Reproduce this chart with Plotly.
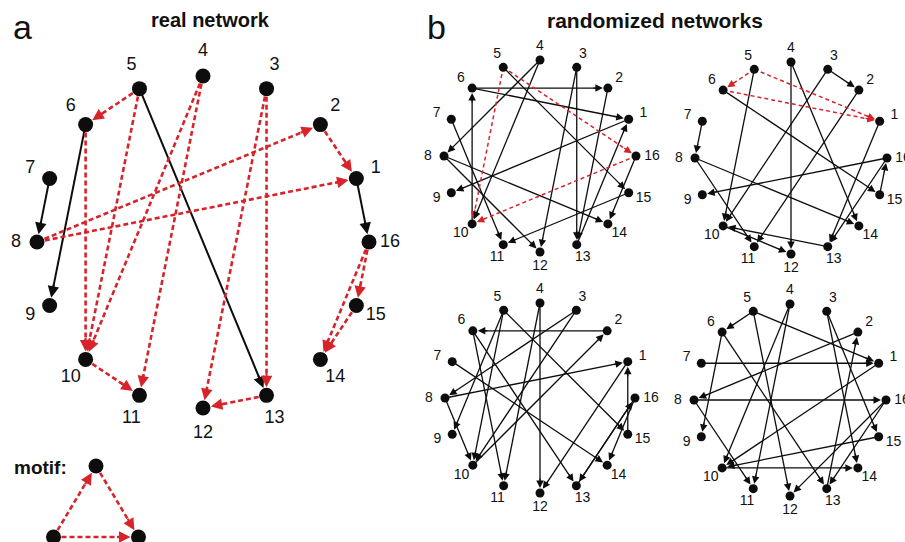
import math
import plotly.graph_objects as go

# ---------------- data ----------------
NODE_IDS = list(range(1, 17))

# (source, target, part_of_feed_forward_motif)
REAL_EDGES = [
    (7, 8, False), (6, 9, False), (5, 13, False), (1, 16, False),
    (5, 6, True), (5, 10, True), (6, 10, True),
    (4, 10, True), (4, 11, True), (10, 11, True),
    (3, 13, True), (3, 12, True), (13, 12, True),
    (8, 2, True), (8, 1, True), (2, 1, True),
    (16, 15, True), (16, 14, True), (15, 14, True),
]
RAND1_EDGES = [
    (5, 10, True), (5, 16, True), (16, 10, True),
    (6, 2, False), (6, 1, False), (10, 6, False), (5, 15, False),
    (4, 8, False), (4, 10, False), (7, 11, False), (8, 12, False),
    (8, 14, False), (1, 9, False), (3, 13, False), (3, 12, False),
    (2, 13, False), (13, 1, False), (15, 11, False), (16, 14, False),
]
RAND2_EDGES = [
    (5, 6, True), (5, 1, True), (6, 1, True),
    (3, 2, False), (7, 8, False), (5, 10, False), (4, 12, False),
    (4, 14, False), (3, 10, False), (2, 11, False), (6, 15, False),
    (8, 14, False), (8, 11, False), (16, 9, False), (15, 16, False),
    (1, 13, False), (16, 13, False), (13, 10, False), (10, 12, False),
]
RAND3_EDGES = [
    (2, 6, False), (3, 8, False), (3, 10, False), (4, 12, False),
    (4, 11, False), (5, 15, False), (5, 9, False), (5, 10, False),
    (6, 11, False), (6, 13, False), (7, 14, False), (8, 1, False),
    (8, 10, False), (10, 2, False), (15, 1, False), (16, 13, False),
    (16, 14, False), (13, 16, False), (1, 12, False),
]
RAND4_EDGES = [
    (5, 6, False), (5, 1, False), (5, 12, False), (4, 10, False),
    (4, 11, False), (3, 15, False), (3, 14, False), (6, 9, False),
    (6, 13, False), (7, 1, False), (2, 8, False), (8, 16, False),
    (8, 11, False), (1, 10, False), (15, 10, False), (10, 14, False),
    (16, 12, False), (16, 13, False), (13, 2, False),
]
MOTIF_EDGES = [(0, 1), (1, 2), (0, 2)]  # bottom-left -> top -> bottom-right

PANEL_LETTERS = ["a", "b"]
PANEL_TITLES = ["real network", "randomized networks"]
MOTIF_LABEL = "motif:"

# ---------------- style / layout ----------------
W, H = 905, 542
BLACK = "#0d0d0d"
RED = "#d6242a"
FONT = "Liberation Sans, Arial, Helvetica, sans-serif"

PANELS = [
    dict(edges=REAL_EDGES, cx=203, cy=242, R=166, node=15, lw=2.0, rlw=2.6,
         dash="5px,3px", hsize=1.15, hw=2.0, fs=18, lx=21, ly=25),
    dict(edges=RAND1_EDGES, cx=540, cy=156, R=96, node=9, lw=1.3, rlw=1.5,
         dash="4px,3px", hsize=1.25, hw=1.2, fs=14, lx=16, ly=14),
    dict(edges=RAND2_EDGES, cx=791, cy=158, R=96, node=9, lw=1.3, rlw=1.5,
         dash="4px,3px", hsize=1.25, hw=1.2, fs=14, lx=16, ly=14),
    dict(edges=RAND3_EDGES, cx=540, cy=398, R=95, node=9, lw=1.3, rlw=1.5,
         dash="4px,3px", hsize=1.25, hw=1.2, fs=14, lx=16, ly=14),
    dict(edges=RAND4_EDGES, cx=790, cy=400, R=96, node=9, lw=1.3, rlw=1.5,
         dash="4px,3px", hsize=1.25, hw=1.2, fs=14, lx=16, ly=14),
]
MOTIF_LAYOUT = dict(cx=96, cy=501.5, side=85, height=71, node=15, lw=2.6,
                    dash="5px,3px", hsize=1.15, hw=2.0)


def circle_positions(cx, cy, R):
    pos = {}
    for k in NODE_IDS:
        a = math.radians(90 + 22.5 * (k - 4))
        pos[k] = (cx + R * math.cos(a), cy - R * math.sin(a), a)
    return pos


fig = go.Figure()
annotations = []


def add_edges(pos, edges, r, lw, rlw, dash, hsize, hw):
    bx, by, rx, ry = [], [], [], []
    for s, t, motif in edges:
        x0, y0 = pos[s][0], pos[s][1]
        x1, y1 = pos[t][0], pos[t][1]
        dx, dy = x1 - x0, y1 - y0
        L = math.hypot(dx, dy)
        ux, uy = dx / L, dy / L
        head = 5 * hsize * hw
        ex, ey = x1 - ux * (r + head * 0.6), y1 - uy * (r + head * 0.6)
        color = RED if motif else BLACK
        if motif:
            rx += [x0, ex, None]
            ry += [y0, ey, None]
        else:
            bx += [x0, ex, None]
            by += [y0, ey, None]
        back = r + head + 4
        annotations.append(dict(
            x=x1, y=y1, xref="x", yref="y",
            ax=x1 - ux * back, ay=y1 - uy * back, axref="x", ayref="y",
            text="", showarrow=True, arrowhead=2, arrowsize=hsize,
            arrowwidth=hw, arrowcolor=color, standoff=r + 0.5,
        ))
    if bx:
        fig.add_trace(go.Scatter(x=bx, y=by, mode="lines",
                                 line=dict(color=BLACK, width=lw),
                                 hoverinfo="skip"))
    if rx:
        fig.add_trace(go.Scatter(x=rx, y=ry, mode="lines",
                                 line=dict(color=RED, width=rlw, dash=dash),
                                 hoverinfo="skip"))


for p in PANELS:
    pos = circle_positions(p["cx"], p["cy"], p["R"])
    add_edges(pos, p["edges"], p["node"] / 2, p["lw"], p["rlw"], p["dash"],
              p["hsize"], p["hw"])
    fig.add_trace(go.Scatter(
        x=[pos[k][0] for k in NODE_IDS], y=[pos[k][1] for k in NODE_IDS],
        mode="markers", marker=dict(color=BLACK, size=p["node"]),
        hoverinfo="skip"))
    fig.add_trace(go.Scatter(
        x=[pos[k][0] + p["lx"] * math.cos(pos[k][2]) for k in NODE_IDS],
        y=[pos[k][1] - p["ly"] * math.sin(pos[k][2]) for k in NODE_IDS],
        mode="text", text=[str(k) for k in NODE_IDS],
        textfont=dict(family=FONT, size=p["fs"], color="#111111"),
        textposition="middle center", hoverinfo="skip"))

# motif triangle
m = MOTIF_LAYOUT
mpos = {
    0: (m["cx"] - m["side"] / 2, m["cy"] + m["height"] / 2, 0),
    1: (m["cx"], m["cy"] - m["height"] / 2, 0),
    2: (m["cx"] + m["side"] / 2, m["cy"] + m["height"] / 2, 0),
}
add_edges(mpos, [(a, b, True) for a, b in MOTIF_EDGES], m["node"] / 2,
          m["lw"], m["lw"], m["dash"], m["hsize"], m["hw"])
fig.add_trace(go.Scatter(
    x=[mpos[k][0] for k in mpos], y=[mpos[k][1] for k in mpos],
    mode="markers", marker=dict(color=BLACK, size=m["node"]),
    hoverinfo="skip"))

# texts
texts = [
    dict(x=22, y=27, text=PANEL_LETTERS[0], size=34, bold=False),
    dict(x=436, y=27, text=PANEL_LETTERS[1], size=34, bold=False),
    dict(x=210, y=20, text=PANEL_TITLES[0], size=20, bold=True),
    dict(x=655, y=20, text=PANEL_TITLES[1], size=21, bold=True),
    dict(x=40, y=467, text=MOTIF_LABEL, size=19, bold=True),
]
for t in texts:
    annotations.append(dict(
        x=t["x"], y=t["y"], xref="x", yref="y", showarrow=False,
        text=("<b>%s</b>" % t["text"]) if t["bold"] else t["text"],
        font=dict(family=FONT, size=t["size"], color="#111111"),
        xanchor="center", yanchor="middle"))

fig.update_layout(
    width=W, height=H, autosize=False,
    margin=dict(l=0, r=0, t=0, b=0, pad=0),
    paper_bgcolor="white", plot_bgcolor="white",
    showlegend=False, hovermode=False,
    xaxis=dict(range=[0, W], visible=False, fixedrange=True),
    yaxis=dict(range=[H, 0], visible=False, fixedrange=True),
    annotations=annotations,
)

fig.write_html("out.html", config={"displayModeBar": False},
               post_script="document.body.style.margin='0';document.body.style.overflow='hidden';")
